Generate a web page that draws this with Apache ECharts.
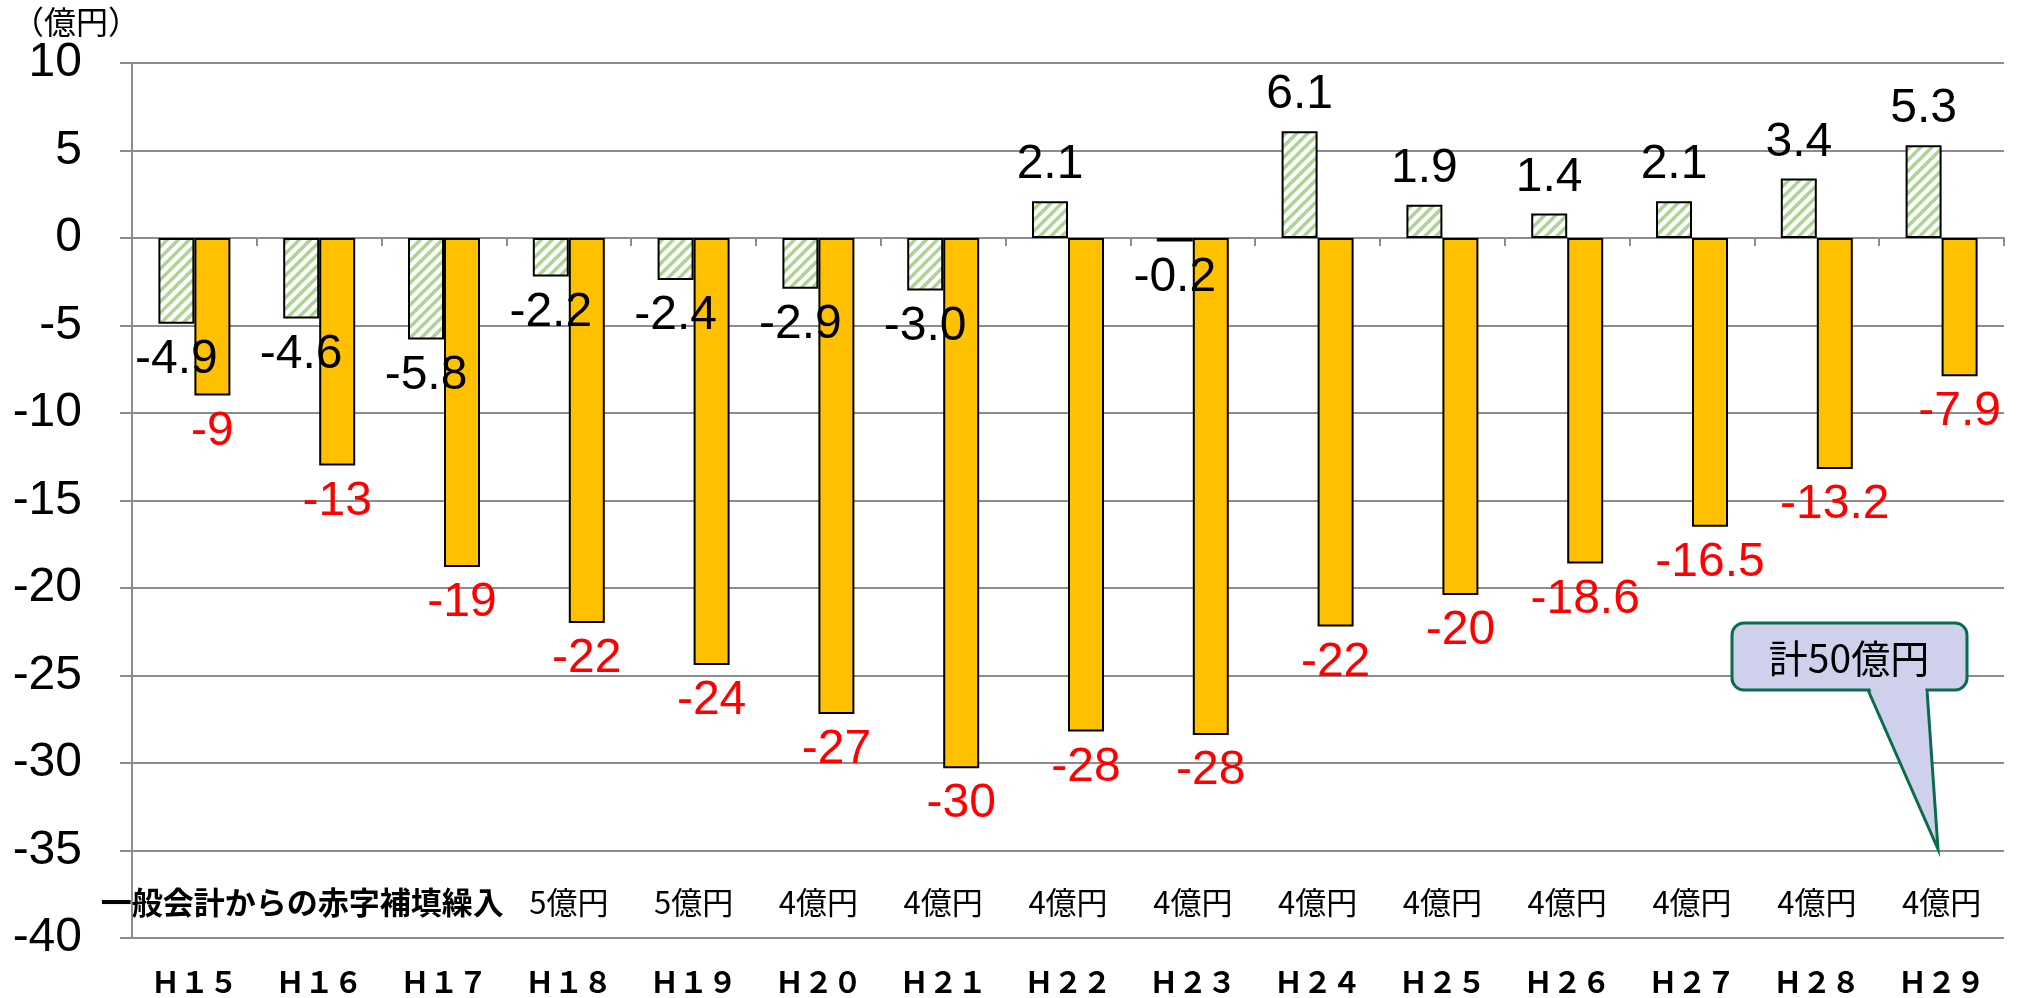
<!DOCTYPE html>
<html>
<head>
<meta charset="utf-8">
<script src="https://cdn.jsdelivr.net/npm/echarts@6/dist/echarts.min.js"></script>
<style>
  html, body { margin: 0; padding: 0; background: #fff; }
  #main { width: 2027px; height: 998px; }
</style>
</head>
<body>
<div id="main"></div>
<script>
var categories = ['Ｈ１５', 'Ｈ１６', 'Ｈ１７', 'Ｈ１８', 'Ｈ１９', 'Ｈ２０', 'Ｈ２１', 'Ｈ２２', 'Ｈ２３', 'Ｈ２４', 'Ｈ２５', 'Ｈ２６', 'Ｈ２７', 'Ｈ２８', 'Ｈ２９'];
var singleYear = [-4.9, -4.6, -5.8, -2.2, -2.4, -2.9, -3.0, 2.1, -0.2, 6.1, 1.9, 1.4, 2.1, 3.4, 5.3];
var accumulated = [-9.0, -13.0, -18.8, -22.0, -24.4, -27.2, -30.3, -28.2, -28.4, -22.2, -20.4, -18.6, -16.5, -13.2, -7.9];
var accumulatedLabels = ['-9', '-13', '-19', '-22', '-24', '-27', '-30', '-28', '-28', '-22', '-20', '-18.6', '-16.5', '-13.2', '-7.9'];
var subsidyLabels = ['', '一般会計からの赤字補填繰入', '', '5億円', '5億円', '4億円', '4億円', '4億円', '4億円', '4億円', '4億円', '4億円', '4億円', '4億円', '4億円'];
var calloutText = '計50億円';

// 斜線ハッチ
function hatch() {
    var c = document.createElement('canvas');
    c.width = 11;
    c.height = 11;
    var ctx = c.getContext('2d');
    ctx.fillStyle = '#ffffff';
    ctx.fillRect(0, 0, 11, 11);
    ctx.strokeStyle = '#acd492';
    ctx.lineWidth = 3.4;
    ctx.beginPath();
    ctx.moveTo(-5.5, 5.5); ctx.lineTo(5.5, -5.5);
    ctx.moveTo(0, 11); ctx.lineTo(11, 0);
    ctx.moveTo(5.5, 16.5); ctx.lineTo(16.5, 5.5);
    ctx.stroke();
    return c;
}

var numFont = '"Liberation Sans", Arial, sans-serif';
var jpFont = '"Noto Sans CJK JP", sans-serif';
var calloutStroke = '#0b6b4e';
var calloutFill = '#cfd0ec';

var myChart = echarts.init(document.getElementById('main'));
var option = {
    animation: false,
    backgroundColor: '#ffffff',
    grid: {
        top: 63,
        left: 132,
        right: 23,
        bottom: 60
    },
    xAxis: [{
        type: 'category',
        data: categories,
        position: 'bottom',
        axisLine: { show: false, onZero: false },
        axisTick: { show: false },
        axisLabel: {
            interval: 0,
            margin: 4,
            verticalAlign: 'middle',
            formatter: function(value, index) {
                var top = subsidyLabels[index];
                var first;
                if (index === 1) {
                    first = '{note|' + top + '}';
                } else {
                    first = '{amt|' + (top || ' ') + '}';
                }
                return first + '\n{h|' + value + '}';
            },
            rich: {
                note: { fontFamily: jpFont, fontWeight: 'bold', fontSize: 31, lineHeight: 79, color: '#000', padding: [0, 34, 0, 0] },
                amt: { fontFamily: jpFont, fontSize: 31, lineHeight: 79, color: '#000' },
                h: { fontFamily: jpFont, fontWeight: 'bold', fontSize: 29, lineHeight: 79, color: '#000' }
            }
        }
    }, {
        type: 'category',
        data: categories,
        position: 'top',
        axisLine: { show: true, onZero: true, lineStyle: { color: '#8c8c8c', width: 2 } },
        axisTick: { show: true, inside: true, length: 8, lineStyle: { color: '#8c8c8c', width: 2 } },
        axisLabel: { show: false }
    }],
    yAxis: {
        type: 'value',
        min: -40,
        max: 10,
        interval: 5,
        axisLine: { show: true, lineStyle: { color: '#8c8c8c', width: 2 } },
        axisTick: { show: true, length: 12, lineStyle: { color: '#8c8c8c', width: 2 } },
        splitLine: { show: true, lineStyle: { color: '#8c8c8c', width: 2 } },
        axisLabel: {
            margin: 50,
            fontFamily: numFont,
            fontSize: 48,
            color: '#000'
        }
    },
    series: [{
        name: '単年度収支',
        type: 'bar',
        xAxisIndex: 0,
        z: 3,
        barWidth: 36,
        barGap: '0%',
        data: singleYear,
        itemStyle: {
            color: { image: hatch(), repeat: 'repeat' },
            borderColor: '#000',
            borderWidth: 2
        },
        label: {
            show: true,
            position: 'outside',
            distance: 12,
            fontFamily: numFont,
            fontSize: 48,
            color: '#000',
            formatter: function(p) {
                return p.value.toFixed(1);
            }
        }
    }, {
        name: '累積収支',
        type: 'bar',
        xAxisIndex: 0,
        z: 2,
        barWidth: 36,
        barGap: '0%',
        data: accumulated,
        itemStyle: {
            color: '#ffc000',
            borderColor: '#000',
            borderWidth: 2
        },
        label: {
            show: true,
            position: 'outside',
            distance: 12,
            fontFamily: numFont,
            fontSize: 48,
            color: '#ff0000',
            formatter: function(p) {
                return accumulatedLabels[p.dataIndex];
            }
        }
    }],
    graphic: [{
        type: 'text',
        left: 12,
        top: 6,
        style: {
            text: '（億円）',
            fontFamily: jpFont,
            fontSize: 32,
            fill: '#000'
        }
    }, {
        // 吹き出しの尾
        type: 'polygon',
        z: 10,
        shape: { points: [[1868, 690], [1938, 849], [1927, 690]] },
        style: { fill: calloutFill, stroke: calloutStroke, lineWidth: 3 }
    }, {
        type: 'rect',
        z: 11,
        shape: { x: 1732, y: 623, width: 235, height: 67, r: 12 },
        style: { fill: calloutFill, stroke: calloutStroke, lineWidth: 3 }
    }, {
        type: 'polygon',
        z: 12,
        shape: { points: [[1870, 687], [1925, 687], [1926, 693], [1871.5, 693]] },
        style: { fill: calloutFill }
    }, {
        type: 'text',
        z: 13,
        x: 1849,
        y: 658,
        style: {
            text: calloutText,
            fontFamily: jpFont,
            fontSize: 39,
            fill: '#000',
            align: 'center',
            verticalAlign: 'middle'
        }
    }]
};

myChart.setOption(option);

window.addEventListener('resize', function() {
    myChart.resize();
});
</script>
</body>
</html>
